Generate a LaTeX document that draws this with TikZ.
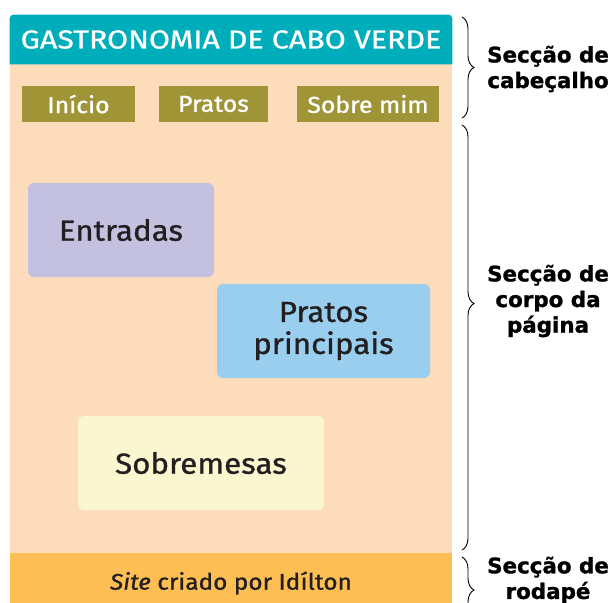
\documentclass[tikz,border=0pt]{standalone}
\usepackage{fontspec}
\setmainfont{Fira Sans}[FakeBold=1, FakeStretch=1.08]
\newfontfamily\titlefont{Fira Sans}[FakeBold=1, FakeStretch=1.17]
\newfontfamily\lblfont{DejaVu Sans}[UprightFont={* Bold}, FakeBold=1.2]
\usetikzlibrary{positioning,decorations.pathreplacing,backgrounds}

\definecolor{hdrteal}{HTML}{00AEBB}
\definecolor{pagepeach}{HTML}{FDDCBC}
\definecolor{navolive}{HTML}{A09536}
\definecolor{lilac}{HTML}{C4C0E0}
\definecolor{skyblue}{HTML}{99CEEE}
\definecolor{cream}{HTML}{FAF6D0}
\definecolor{footorange}{HTML}{FDBE54}
\definecolor{inkdark}{HTML}{231F20}

\begin{document}
\begin{tikzpicture}[
  x=0.5pt, y=-0.5pt,
  font=\fontsize{10}{12}\selectfont,
  navbtn/.style={fill=navolive, text=white, minimum height=18pt, inner sep=0pt, font=\fontsize{11.5}{12}\selectfont},
  card/.style={rounded corners=3pt, minimum height=47pt, align=center, text=inkdark, inner sep=0pt, font=\fontsize{14.5}{15}\selectfont},
  part/.style={font=\lblfont\fontsize{10.7}{12.8}\selectfont, align=center},
  sbrace/.style={decorate, decoration={brace, amplitude=6pt}, line width=0.45pt},
]
  \clip (0,0) rectangle (614,602);

  % header and footer
  \node[minimum width=221pt, minimum height=24.5pt, inner sep=0pt, text=white, font=\titlefont\fontsize{13}{14}\selectfont] (title) at (231,39.5) {GASTRONOMIA DE CABO VERDE};
  \node[fill=footorange, minimum width=221pt, minimum height=30pt, inner sep=0pt, text=inkdark, font=\fontsize{11.3}{13}\selectfont] (foot) at (231,583) {\textit{Site} criado por Idílton};
  \begin{scope}[on background layer]
    % page background
    \fill[pagepeach] (10,40) rectangle (452,600);
    \fill[hdrteal] (title.south west) [rounded corners=2pt] -- (title.north west) -- (title.north east) [sharp corners] -- (title.south east) -- cycle;
  \end{scope}

  % menu
  \node[navbtn, minimum width=56.5pt] (inicio) at (78.5,104) {Início};
  \node[navbtn, minimum width=54.5pt] (pratos) at (213.5,104) {Pratos};
  \node[navbtn, minimum width=71pt] (sobre) at (368,104) {Sobre mim};

  % body
  \node[card, fill=lilac, minimum width=93pt] (entradas) at (121,230) {Entradas};
  \node[card, fill=skyblue, minimum width=106.5pt] (principais) at (323.5,331) {Pratos\\[1pt]principais};
  \node[card, fill=cream, minimum width=123pt] (sobremesas) at (201,463) {Sobremesas};

  % braces
  \coordinate (hdrtop) at (462,17);
  \coordinate (hdrbot) at (462,118);
  \coordinate (bodytop) at (462,125);
  \coordinate (bodybot) at (462,550);
  \coordinate (foottop) at (462,557);
  \coordinate (footbot) at (462,623);
  \draw[sbrace] (hdrtop) -- (hdrbot);
  \draw[sbrace, decoration={aspect=0.42}] (bodytop) -- (bodybot);
  \draw[sbrace] (foottop) -- (footbot);

  \node[part] (lblhdr) at (548,69) {Secção de\\cabeçalho};
  \node[part] (lblbody) at (548,301) {Secção de\\corpo da\\página};
  \node[part] (lblfoot) at (548,580) {Secção de\\rodapé};
\end{tikzpicture}
\end{document}
